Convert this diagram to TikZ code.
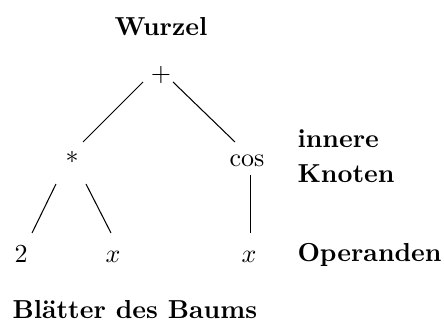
\documentclass[tikz,border=0pt]{standalone}
\begin{document}
\begin{tikzpicture}[x=0.3846pt,y=-0.3846pt,
  sym/.style={anchor=base,inner sep=0pt},
  lbl/.style={anchor=base west,inner sep=0pt,font=\bfseries},
  edge/.style={line width=0.4pt}]
\useasboundingbox (0,0) rectangle (444,327);
% caption above the root
\node[sym,font=\bfseries] (wurzel) at (161,36) {Wurzel};
% expression tree
\node[sym] (plus) at (161,81.5) {$+$};
\node[sym] (ast)  at (72,164)   {$*$};
\node[sym] (cos)  at (247,167)  {$\cos$};
\node[sym] (two)  at (21,263)   {$2$};
\node[sym] (xa)   at (113,263)  {$x$};
\node[sym] (xb)   at (249,263)  {$x$};
% explanations on the right and below
\node[lbl] (inn)  at (297,148) {innere};
\node[lbl] (kno)  at (297,183) {Knoten};
\node[lbl] (ope)  at (297,262) {Operanden};
\node[lbl] (bla)  at (12,318)  {Blätter des Baums};
% edges
\draw[edge] ([shift={(-18,0.5)}]plus.base) -- ([shift={(11,-22)}]ast.base);
\draw[edge] ([shift={(12,0.5)}]plus.base) -- ([shift={(-12,-25)}]cos.base);
\draw[edge] ([shift={(-16,20)}]ast.base) -- ([shift={(11,-30)}]two.base);
\draw[edge] ([shift={(14,20)}]ast.base) -- ([shift={(-2,-30)}]xa.base);
\draw[edge] ([shift={(3.5,8)}]cos.base) -- ([shift={(1.5,-30)}]xb.base);
\end{tikzpicture}
\end{document}
